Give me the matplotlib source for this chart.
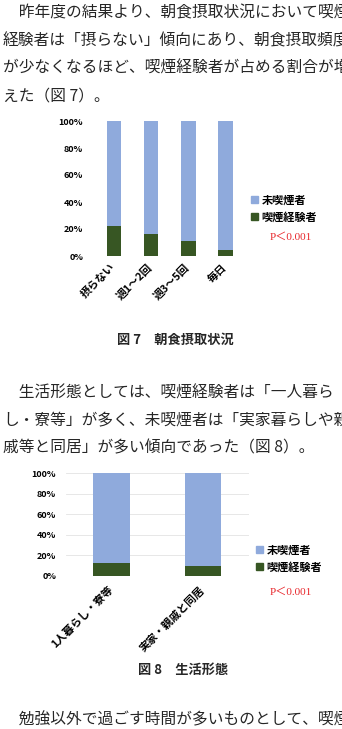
import numpy as np
import matplotlib
matplotlib.use('Agg')
import matplotlib.pyplot as plt
from matplotlib.patches import Patch

plt.rcParams['font.family'] = ['Noto Sans CJK JP', 'DejaVu Sans']

W, H = 342, 729

# 図7 朝食摂取状況
breakfast_cats = ['摂らない', '週1～2回', '週3～5回', '毎日']
breakfast_smoker = [22, 16, 11, 4.5]
breakfast_nonsmoker = [78, 84, 89, 95.5]

# 図8 生活形態
living_cats = ['1人暮らし・寮等', '実家・親戚と同居']
living_smoker = [12, 9]
living_nonsmoker = [88, 91]

series_names = ['未喫煙者', '喫煙経験者']
yticks = [0, 20, 40, 60, 80, 100]
ytick_labels = ['0%', '20%', '40%', '60%', '80%', '100%']
p_text = 'P＜0.001'

para1 = ['　昨年度の結果より、朝食摂取状況において喫煙',
         '経験者は「摂らない」傾向にあり、朝食摂取頻度',
         'が少なくなるほど、喫煙経験者が占める割合が増',
         'えた（図 7）。']
para2 = ['　生活形態としては、喫煙経験者は「一人暮ら',
         'し・寮等」が多く、未喫煙者は「実家暮らしや親',
         '戚等と同居」が多い傾向であった（図 8）。']
para3 = ['　勉強以外で過ごす時間が多いものとして、喫煙']
caption1 = '図 7　朝食摂取状況'
caption2 = '図 8　生活形態'

c_light = '#8faadc'
c_dark = '#375623'
txt_col = '#262626'

fig = plt.figure(figsize=(W / 100, H / 100), dpi=100)


def ftext(x, y, s, **kw):
    fig.text(x / W, 1 - y / H, s, **kw)


def body(lines, y0, step=27.5):
    for i, s in enumerate(lines):
        ftext(3, y0 + i * step, s, fontsize=11.3, va='center', ha='left', color=txt_col)


body(para1, 13)
body(para2, 393)
body(para3, 720)

ftext(175, 340, caption1, fontsize=9.5, fontweight='bold', ha='center', va='center', color=txt_col)
ftext(183, 670, caption2, fontsize=9.5, fontweight='bold', ha='center', va='center', color=txt_col)


def stacked(ax, cats, smoker, nonsmoker, width, grid, ypad, xpad, fs):
    x = np.arange(len(cats))
    ax.bar(x, smoker, width, color=c_dark, zorder=3)
    ax.bar(x, nonsmoker, width, bottom=smoker, color=c_light, zorder=3)
    ax.set_xlim(-0.5, len(cats) - 0.5)
    ax.set_ylim(0, 100)
    ax.set_yticks(yticks)
    ax.set_yticklabels(ytick_labels, fontsize=6.5, fontweight='bold')
    ax.set_xticks(x)
    ax.set_xticklabels(cats, fontsize=fs, fontweight='bold', rotation=45,
                       ha='right', va='center', rotation_mode='anchor')
    ax.tick_params(axis='y', length=0, pad=ypad)
    ax.tick_params(axis='x', length=0, pad=xpad)
    for sp in ax.spines.values():
        sp.set_visible(False)
    if grid:
        ax.yaxis.grid(True, color='#e3e3e3', linewidth=0.6, zorder=0)
    ax.set_facecolor('none')


def legend(ax, lx, ly, py):
    handles = [Patch(color=c_light), Patch(color=c_dark)]
    ax.legend(handles, series_names, loc='center left',
              bbox_to_anchor=(lx / W, 1 - ly / H), bbox_transform=fig.transFigure,
              frameon=False, handlelength=0.6, handleheight=0.6,
              handletextpad=0.35, labelspacing=0.4, borderpad=0, borderaxespad=0,
              prop={'weight': 'bold', 'size': 8})
    ftext(270, py, p_text, fontsize=8, color='#e8262b', ha='left', va='center',
          family=['Liberation Serif', 'Noto Sans CJK JP'])


# chart 1
ax1 = fig.add_axes([95.5 / W, 1 - 256 / H, 148.5 / W, 135 / H])
stacked(ax1, breakfast_cats, breakfast_smoker, breakfast_nonsmoker, 0.39, False, 9, 7, 7.8)
legend(ax1, 251, 208.5, 237)

# chart 2
ax2 = fig.add_axes([65.75 / W, 1 - 575.7 / H, 183 / W, 102.4 / H])
stacked(ax2, living_cats, living_smoker, living_nonsmoker, 0.40, True, 7, 9, 7.8)
legend(ax2, 256, 558.5, 592)

fig.savefig('out.png', dpi=100)
